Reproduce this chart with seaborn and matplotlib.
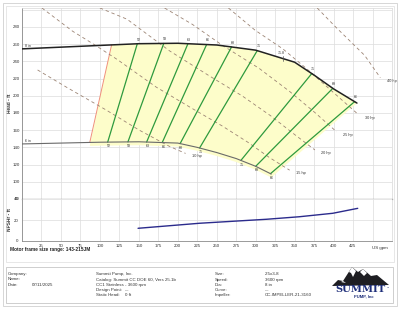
import numpy as np
import pandas as pd
import matplotlib
matplotlib.use("Agg")
import matplotlib.pyplot as plt
import seaborn as sns
from matplotlib.patches import Rectangle, Polygon

# ---------------- data ----------------
flow_8in = [0, 50, 100, 150, 200, 250, 300, 350, 375, 400, 430]
head_8in = [254.5, 256.5, 258.5, 260.5, 261, 259, 253, 239, 224, 208, 191.5]
flow_6in = [0, 50, 100, 150, 200, 225, 250, 275, 300, 320]
head_6in = [144, 145, 146, 146.5, 145, 140, 134, 127, 118, 109]

eff_labels = ["52", "58", "63", "66", "68", "71", "71", "69", "66"]
eff_flow_8in = [148, 182, 213, 237, 269, 302, 372, 399, 427]
eff_flow_6in = [110, 136, 160, 180, 203, 228, 281, 300, 319]

bep_flow = 335
bep_label = "71.8"
min_flow_6in = 87
min_flow_8in = 115

hp10_flow = [20, 57, 107, 150.6, 189.6, 210]
hp10_head = [230, 210, 184, 160, 141, 133]
hp15_flow = [25.6, 65, 93.6, 122.5, 172.4, 217, 256.8, 289.9, 317.3, 343.6]
hp15_head = [302, 275, 259, 242, 210, 186, 165, 146, 128.4, 113.5]
hp20_flow = [100, 134.8, 189.7, 238.9, 282.7, 319.1, 349.2, 376]
hp20_head = [302, 289, 252, 224, 199.8, 176.8, 155.5, 137]
hp25_flow = [183, 218.7, 257.3, 304.5, 343.6, 376, 404]
hp25_head = [302, 283, 258.6, 231.8, 205, 180.5, 158]
hp30_flow = [265, 299.2, 335, 365.2, 399.8, 432]
hp30_head = [302, 276.2, 254.4, 231.6, 203.8, 178]
hp40_flow = [379, 402, 439.9, 460]
hp40_head = [302, 280.5, 246.9, 221]
hp_labels = ["10 hp", "15 hp", "20 hp", "25 hp", "30 hp", "40 hp"]

npsh_flow = [149, 228, 314, 356, 399, 431]
npsh_ft = [12.1, 16.9, 20.7, 23.1, 26.4, 31.1]

head_ticks = [80, 100, 120, 140, 160, 180, 200, 220, 240, 260, 280]
npsh_ticks = [0, 20, 40]

info_left = [("Company:", ""), ("Name:", ""), ("Date:", "07/11/2025")]
info_mid = ["Summit Pump, Inc.", "Catalog: Summit CC DOE 60, Vers 25.1b",
            "CC1 Stainless - 3600 rpm"]
info_mid2 = [("Design Point:", "---"), ("Static Head:", "0 ft")]
info_keys = ["Size:", "Speed:", "Dia:", "Curve:", "Impeller:"]
info_vals = ["2.5x3-8", "3600 rpm", "8 in", "---", "CC-IMPELLER-21-3160"]

# ---------------- style ----------------
sns.set_style("white")
plt.rcParams['font.family'] = ['Liberation Sans', 'DejaVu Sans']

W, H = 400, 309
fig = plt.figure(figsize=(4, 3.09), dpi=100)
def fx(p): return p / W
def fy(p): return 1 - p / H

GRID = "#dcdcdc"
GREEN = "#2e9a3e"
HPC = "#9c8474"
TXT = "#333333"
FS = 3.2

# frames
fig.patches.append(Rectangle((fx(3), fy(306)), fx(394), 303 / H, transform=fig.transFigure,
                             fill=False, ec="#d0d0d0", lw=0.6))
fig.patches.append(Rectangle((fx(6), fy(262)), fx(388), 256 / H, transform=fig.transFigure,
                             fill=False, ec="#dddddd", lw=0.5))
fig.patches.append(Rectangle((fx(6), fy(303)), fx(387), 36 / H, transform=fig.transFigure,
                             fill=False, ec="#bbbbbb", lw=0.5))

ax = fig.add_axes([fx(22), fy(199), 370 / W, 191 / H])
ax2 = fig.add_axes([fx(22), fy(241), 370 / W, 42 / H])

# ---- head axes ----
ax.set_xlim(0, 475)
ax.set_ylim(80, 302)
ax.set_xticks(list(range(0, 476, 25)))
ax.set_yticks(head_ticks + [300])
ax.set_yticklabels([str(t) for t in head_ticks] + [""])
ax.set_xticklabels([])
ax.grid(True, color=GRID, lw=0.5)
ax.set_axisbelow(True)
ax.tick_params(length=0, pad=1.5, labelsize=FS, labelcolor=TXT)
for s in ["top", "right"]:
    ax.spines[s].set_color("#d8d8d8"); ax.spines[s].set_linewidth(0.5)
ax.spines["left"].set_color("#8a8a8a"); ax.spines["left"].set_linewidth(0.6)
ax.spines["bottom"].set_color("#777777"); ax.spines["bottom"].set_linewidth(0.9)
ax.set_ylabel("Head - ft", fontsize=3.4, fontweight="bold", color=TXT)
ax.yaxis.set_label_coords(-0.027, 0.5)

# yellow operating region
q_top = [min_flow_8in] + [q for q in flow_8in if min_flow_8in < q < 430] + [430]
h_top = list(np.interp(q_top, flow_8in, head_8in))
q_bot = [320] + [q for q in flow_6in[::-1] if min_flow_6in < q < 320] + [min_flow_6in]
h_bot = list(np.interp(q_bot, flow_6in, head_6in) - 4)
poly = list(zip(q_top, h_top)) + list(zip(q_bot, h_bot))
ax.add_patch(Polygon(poly, closed=True, fc="#fdfdca", ec="none", zorder=1))

# min flow line
sns.lineplot(x=[min_flow_6in, min_flow_8in],
             y=[np.interp(min_flow_6in, flow_6in, head_6in), np.interp(min_flow_8in, flow_8in, head_8in)],
             color="#f0907a", lw=0.7, ax=ax, zorder=2)

# hp lines
hp_sets = [(hp10_flow, hp10_head), (hp15_flow, hp15_head), (hp20_flow, hp20_head),
           (hp25_flow, hp25_head), (hp30_flow, hp30_head), (hp40_flow, hp40_head)]
for (qf, hh), lab in zip(hp_sets, hp_labels):
    sns.lineplot(x=qf, y=hh, color=HPC, lw=0.6, ax=ax, zorder=3,
                 linestyle=(0, (4, 3.5)))
    ax.text(qf[-1] + 8, hh[-1] - 3.5, lab, fontsize=2.8, color=TXT, ha="left", va="center", zorder=6)

# efficiency lines
for lab, qt, qb in zip(eff_labels, eff_flow_8in, eff_flow_6in):
    ht = np.interp(qt, flow_8in, head_8in)
    hb = np.interp(qb, flow_6in, head_6in)
    sns.lineplot(x=[qb, qt], y=[hb, ht], color=GREEN, lw=0.9, ax=ax, zorder=4)
    ax.text(qt + 1.5, ht + 2.5, lab, fontsize=2.6, color=TXT, ha="center", va="bottom", zorder=6)
    ax.text(qb + 1.5, hb - 2.5, lab, fontsize=2.6, color=TXT, ha="center", va="top", zorder=6)

# impeller curves
sns.lineplot(x=flow_8in, y=head_8in, color="#222222", lw=1.1, ax=ax, zorder=5)
sns.lineplot(x=flow_6in, y=head_6in, color="#6a6a6a", lw=0.8, ax=ax, zorder=5)
ax.text(4, head_8in[0] + 1.5, "8 in", fontsize=2.6, color=TXT, ha="left", va="bottom")
ax.text(4, head_6in[0] + 1.5, "6 in", fontsize=2.6, color=TXT, ha="left", va="bottom")

# BEP mark
hbep = np.interp(bep_flow, flow_8in, head_8in)
ax.plot([bep_flow, bep_flow], [hbep - 3, hbep + 3], color="#555555", lw=0.5, zorder=6)
ax.text(bep_flow - 2, hbep + 4, bep_label, fontsize=2.6, color=TXT, ha="center", va="bottom", zorder=6)

# ---- NPSH axes ----
ax2.set_xlim(0, 475)
ax2.set_ylim(0, 40)
ax2.set_xticks(list(range(0, 476, 25)))
ax2.set_xticklabels(["" if (t == 0 or t > 425) else str(t) for t in range(0, 476, 25)])
ax2.set_yticks(npsh_ticks)
ax2.grid(True, color=GRID, lw=0.5)
ax2.set_axisbelow(True)
ax2.tick_params(length=0, pad=2.5, labelsize=FS, labelcolor=TXT)
ax2.spines["top"].set_visible(False)
ax2.spines["right"].set_color("#d8d8d8"); ax2.spines["right"].set_linewidth(0.5)
ax2.spines["left"].set_color("#8a8a8a"); ax2.spines["left"].set_linewidth(0.6)
ax2.spines["bottom"].set_color("#8a8a8a"); ax2.spines["bottom"].set_linewidth(0.6)
ax2.set_ylabel("NPSHr - ft", fontsize=3.4, fontweight="bold", color=TXT)
ax2.yaxis.set_label_coords(-0.027, 0.5)
sns.lineplot(x=npsh_flow, y=npsh_ft, color="#2b2b8c", lw=1.0, ax=ax2, zorder=4)
ax2.text(460, -4.8, "US gpm", fontsize=FS, color=TXT, ha="center", va="top", clip_on=False)

# ---- texts below ----
fig.text(fx(10), fy(249.5), "Motor frame size range: 143-215JM", fontsize=3.4,
         fontweight="bold", color="#222222", va="center")

rows = [274.3, 279.5, 284.8, 290, 295.2]
for i, (k, v) in enumerate(info_left):
    fig.text(fx(8), fy(rows[i]), k, fontsize=FS, color=TXT, va="center")
    if v:
        fig.text(fx(32), fy(rows[i]), v, fontsize=FS, color=TXT, va="center")
for i, t in enumerate(info_mid):
    fig.text(fx(96), fy(rows[i]), t, fontsize=FS, color=TXT, va="center")
for j, (k, v) in enumerate(info_mid2):
    fig.text(fx(96), fy(rows[3 + j]), k, fontsize=FS, color=TXT, va="center")
    fig.text(fx(125), fy(rows[3 + j]), v, fontsize=FS, color=TXT, va="center")
for i, (k, v) in enumerate(zip(info_keys, info_vals)):
    fig.text(fx(215), fy(rows[i]), k, fontsize=FS, color=TXT, va="center")
    fig.text(fx(265), fy(rows[i]), v, fontsize=FS, color=TXT, va="center")

# ---- logo ----
mount = [(332, 286), (338, 280), (343, 281), (352, 267), (358, 272), (363, 269),
         (371, 276), (377, 275), (389, 285), (332, 286)]
fig.patches.append(Polygon([(fx(a), fy(b)) for a, b in mount], closed=True,
                           transform=fig.transFigure, fc="#1e1e22", ec="none"))
for pts in ([(349, 272), (352, 267), (356, 271), (353, 277), (351, 273)],
            [(360, 272), (363, 269), (367, 273), (364, 276)],
            [(341, 282), (343, 281), (346, 283)]):
    fig.patches.append(Polygon([(fx(a), fy(b)) for a, b in pts], closed=True,
                               transform=fig.transFigure, fc="white", ec="none"))
fig.text(fx(361), fy(290), "SUMMIT", fontsize=7.2, fontweight="bold", family="DejaVu Serif",
         color="#1f2f7a", ha="center", va="center")
fig.text(fx(387), fy(287.5), "TM", fontsize=1.6, color="#1f2f7a", ha="left", va="center")
fig.text(fx(364), fy(296), "PUMP, Inc", fontsize=3.0, fontweight="bold",
         color="#1f2f7a", ha="center", va="center")

fig.savefig("out.png", dpi=100)
